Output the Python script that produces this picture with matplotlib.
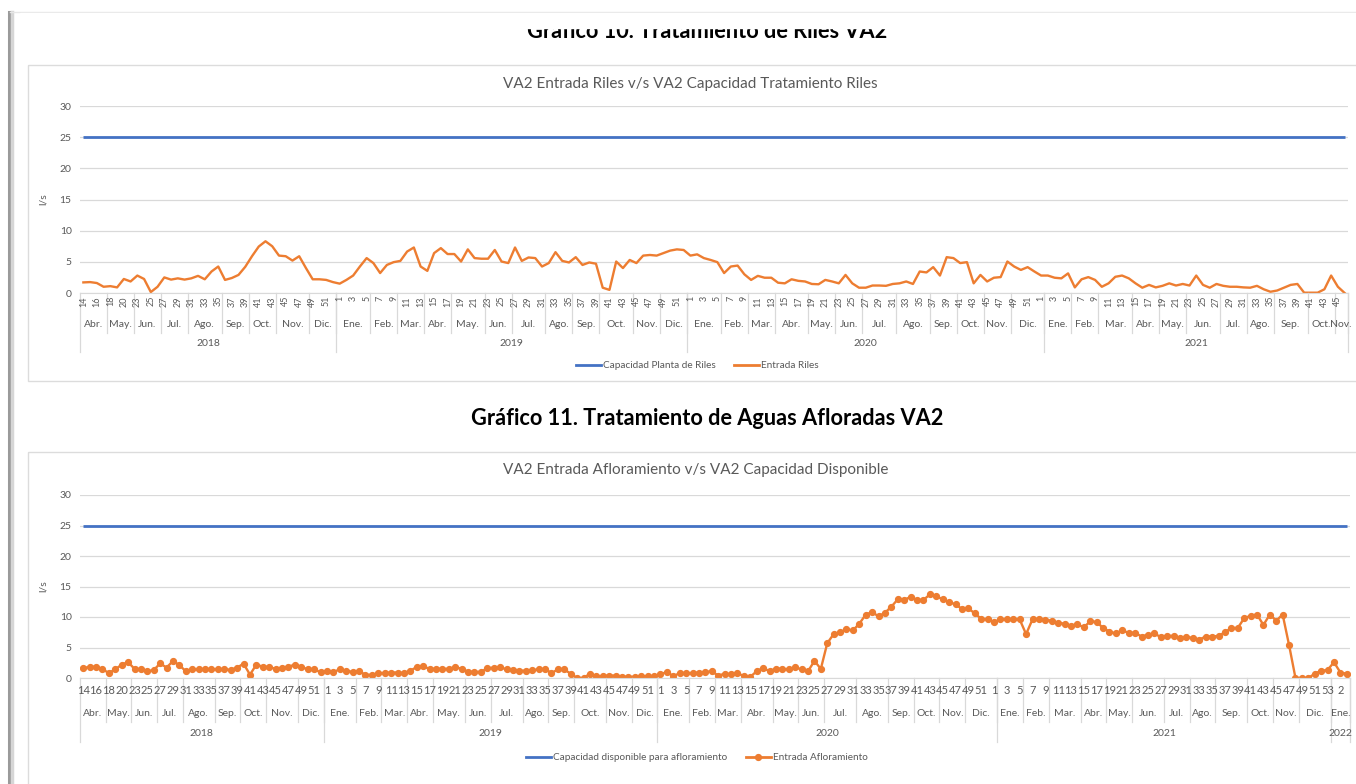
import matplotlib.pyplot as plt
import matplotlib.transforms as mtransforms
from matplotlib.lines import Line2D
from matplotlib.patches import Rectangle

plt.rcParams['font.family'] = ['Lato', 'DejaVu Sans']

W, H = 1356, 784

# --- categorias (semana / mes / año) ---
MESES = ['Ene.', 'Feb.', 'Mar.', 'Abr.', 'May.', 'Jun.', 'Jul.', 'Ago.', 'Sep.', 'Oct.', 'Nov.', 'Dic.']
ANIOS = ['2018', '2019', '2020', '2021', '2022']
SEMANAS_2018 = [[], [], [], [14, 15, 16, 17], [18, 19, 20, 21], [23, 24, 25, 26], [27, 28, 29, 30],
                [31, 32, 33, 34, 35], [36, 37, 38, 39], [40, 41, 42, 43], [44, 45, 46, 47, 48], [49, 50, 51, 52]]
SEMANAS_2019 = [[1, 2, 3, 4, 5], [6, 7, 8, 9], [10, 11, 12, 13], [14, 15, 16, 17], [18, 19, 20, 21, 22],
                [23, 24, 25, 26], [27, 28, 29, 30, 31], [32, 33, 34, 35], [36, 37, 38, 39],
                [40, 41, 42, 43, 44], [45, 46, 47, 48], [49, 50, 51, 52]]
SEMANAS_2020 = [[1, 2, 3, 4, 5], [6, 7, 8, 9], [10, 11, 12, 13], [14, 15, 16, 17, 18], [19, 20, 21, 22],
                [23, 24, 25, 26], [27, 28, 29, 30, 31], [32, 33, 34, 35, 36], [37, 38, 39, 40],
                [41, 42, 43, 44], [45, 46, 47, 48], [49, 50, 51, 52, 1]]
SEMANAS_2021 = [[2, 3, 4, 5], [6, 7, 8, 9], [10, 11, 12, 13, 14], [15, 16, 17, 18], [19, 20, 21, 22],
                [23, 24, 25, 26, 27], [28, 29, 30, 31], [32, 33, 34, 35], [36, 37, 38, 39, 40],
                [41, 42, 43, 44], [45, 46, 47, 48], [49, 50, 51, 52, 53]]
SEMANAS_2022 = [[1, 2, 3]]

# --- datos (l/s) ---
CAPACIDAD_RILES = 25
CAPACIDAD_AFLORAMIENTO = 25

RILES_2018 = [1.7, 1.75, 1.6, 1.0, 1.1, 0.9, 2.25, 1.85, 2.8, 2.25, 0.15, 1.0, 2.5, 2.15, 2.35, 2.15,
              2.35, 2.75, 2.2, 3.45, 4.25, 2.1, 2.4, 2.9, 4.2, 5.9, 7.45, 8.3, 7.5, 6.0, 5.9, 5.2, 5.9,
              4.0, 2.2, 2.2, 2.1, 1.75]
RILES_2019 = [1.5, 2.1, 2.8, 4.25, 5.6, 4.8, 3.2, 4.5, 4.95, 5.15, 6.65, 7.3, 4.25, 3.55, 6.4, 7.2,
              6.25, 6.25, 5.05, 7.0, 5.6, 5.5, 5.5, 6.9, 5.05, 4.8, 7.3, 5.15, 5.7, 5.6, 4.25, 4.8,
              6.55, 5.15, 4.9, 5.75, 4.5, 4.9, 4.7, 0.85, 0.5, 5.05, 4.0, 5.3, 4.8, 6.0, 6.1, 6.0,
              6.4, 6.8, 7.0, 6.9]
RILES_2020 = [6.0, 6.2, 5.6, 5.3, 4.95, 3.2, 4.25, 4.4, 3.0, 2.1, 2.75, 2.45, 2.45, 1.65, 1.55, 2.2,
              1.95, 1.85, 1.45, 1.4, 2.1, 1.85, 1.55, 2.9, 1.55, 0.85, 0.85, 1.2, 1.2, 1.15, 1.45,
              1.55, 1.85, 1.45, 3.45, 3.3, 4.15, 2.8, 5.75, 5.6, 4.8, 4.95, 1.55, 2.9, 1.85, 2.45,
              2.55, 5.05, 4.25, 3.7, 4.15, 3.45, 2.8]
RILES_2021 = [2.8, 2.45, 2.35, 3.15, 0.9, 2.2, 2.55, 2.1, 1.0, 1.55, 2.6, 2.8, 2.35, 1.55, 0.85,
              1.3, 0.9, 1.15, 1.55, 1.2, 1.45, 1.2, 2.8, 1.3, 0.85, 1.45, 1.15, 1.0, 1.0, 0.9, 0.85,
              1.15, 0.6, 0.2, 0.4, 0.85, 1.3, 1.45, 0.05, 0.05, 0.05, 0.6, 2.8, 1.0, 0.0]

AFLORA_2018 = [1.65, 1.8, 1.85, 1.4, 0.85, 1.4, 2.2, 2.6, 1.5, 1.4, 1.1, 1.3, 2.4, 1.7, 2.8, 2.1,
               1.1, 1.4, 1.4, 1.4, 1.45, 1.4, 1.4, 1.35, 1.7, 2.35, 0.55, 2.2, 1.85, 1.8, 1.5, 1.7,
               1.85, 2.2, 1.85, 1.4, 1.4, 0.95]
AFLORA_2019 = [1.1, 1.0, 1.4, 1.2, 1.0, 1.1, 0.55, 0.5, 0.8, 0.8, 0.9, 0.9, 0.8, 1.2, 1.8, 1.9,
               1.5, 1.5, 1.5, 1.5, 1.8, 1.5, 1.05, 1.0, 1.0, 1.6, 1.7, 1.8, 1.4, 1.3, 1.2, 1.2, 1.3,
               1.4, 1.5, 0.8, 1.4, 1.4, 0.7, 0.0, 0.0, 0.7, 0.3, 0.3, 0.4, 0.4, 0.2, 0.2, 0.2, 0.3,
               0.3, 0.3]
AFLORA_2020 = [0.6, 1.0, 0.3, 0.8, 0.8, 0.8, 0.9, 1.0, 1.1, 0.4, 0.7, 0.6, 0.8, 0.3, 0.2, 1.1,
               1.65, 1.1, 1.55, 1.5, 1.4, 1.75, 1.4, 1.1, 2.8, 1.5, 5.7, 7.2, 7.5, 8.0, 7.8, 8.9,
               10.4, 10.8, 10.1, 10.7, 11.7, 12.9, 12.8, 13.3, 12.8, 12.8, 13.7, 13.4, 12.9, 12.4,
               12.1, 11.3, 11.4, 10.6, 9.7, 9.6, 9.2]
AFLORA_2021 = [9.6, 9.6, 9.6, 9.6, 7.2, 9.6, 9.6, 9.55, 9.4, 9.05, 8.9, 8.6, 8.8, 8.3, 9.3, 9.2,
               8.2, 7.6, 7.3, 7.8, 7.4, 7.4, 6.8, 7.1, 7.3, 6.7, 6.9, 6.9, 6.5, 6.7, 6.6, 6.3, 6.8,
               6.8, 6.9, 7.5, 8.2, 8.2, 9.8, 10.2, 10.4, 8.7, 10.4, 9.4, 10.4, 5.4, 0.0, 0.0, 0.0,
               0.7, 1.2, 1.3]
AFLORA_2022 = [2.6, 0.9, 0.7]

ENTRADA_RILES = RILES_2018 + RILES_2019 + RILES_2020 + RILES_2021
ENTRADA_AFLORAMIENTO = AFLORA_2018 + AFLORA_2019 + AFLORA_2020 + AFLORA_2021 + AFLORA_2022

AZUL = '#4472C4'
NARANJA = '#ED7D31'
GRIS = '#595959'
GRILLA = '#D9D9D9'

semanas, meses, anios = [], [], []
for anio, sem_anio in zip(ANIOS, [SEMANAS_2018, SEMANAS_2019, SEMANAS_2020, SEMANAS_2021, SEMANAS_2022]):
    for mes, lista in zip(MESES, sem_anio):
        for s in lista:
            semanas.append(s)
            meses.append((anio, mes))
            anios.append(anio)


def tramos(claves, n):
    # grupos consecutivos (inicio, fin, clave)
    res = []
    ini = 0
    for i in range(1, n + 1):
        if i == n or claves[i] != claves[ini]:
            res.append((ini, i - 1, claves[ini]))
            ini = i
    return res


fig = plt.figure(figsize=(W / 100, H / 100), dpi=100)
fondo = fig.add_axes([0, 0, 1, 1], zorder=0)
fondo.set_xlim(0, W)
fondo.set_ylim(H, 0)
fondo.axis('off')

# marco de la pagina y de los graficos
fondo.plot([9, 9], [12, H], color='#9a9a9a', lw=2.2)
fondo.plot([12, 12], [12, H], color='#d6d6d6', lw=2.5)
fondo.plot([10, W], [12, 12], color='#e6e6e6', lw=1)
fondo.add_patch(Rectangle((28, 65), W, 316, fill=False, ec='#dcdcdc', lw=1))
fondo.add_patch(Rectangle((28, 452), W, 400, fill=False, ec='#dcdcdc', lw=1))

fondo.text(707, 38, 'Gráfico 10. Tratamiento de Riles VA2', ha='center', va='baseline',
           fontsize=15.7, fontweight='bold', color='black')
fondo.add_patch(Rectangle((20, 13), W, 15, color='white', zorder=5))
fondo.text(707, 425, 'Gráfico 11. Tratamiento de Aguas Afloradas VA2', ha='center', va='baseline',
           fontsize=15.7, fontweight='bold', color='black')

fondo.text(690, 84, 'VA2 Entrada Riles v/s VA2 Capacidad Tratamiento Riles', ha='center',
           va='center', fontsize=11, color=GRIS)
fondo.text(696, 470, 'VA2 Entrada Afloramiento v/s VA2 Capacidad Disponible', ha='center',
           va='center', fontsize=11, color=GRIS)


def grafico(caja, valores, capacidad, nombre_cap, nombre_ent, marcador, filas, leyenda):
    x0, y0, x1, y1 = caja
    ax = fig.add_axes([x0 / W, 1 - y1 / H, (x1 - x0) / W, (y1 - y0) / H], zorder=2)
    ax.patch.set_alpha(0)
    n = len(valores)
    x = list(range(n))
    ax.plot(x, [capacidad] * n, color=AZUL, lw=2, solid_capstyle='butt')
    ax.plot(x, valores, color=NARANJA, lw=1.7, marker=marcador, ms=4.2, solid_joinstyle='round')
    ax.set_xlim(-0.5, n - 0.5)
    ax.set_ylim(0, 30)
    ax.set_yticks(range(0, 31, 5))
    ax.set_xticks([])
    ax.grid(axis='y', color=GRILLA, lw=0.9)
    ax.set_axisbelow(True)
    for lado in ['top', 'right', 'left']:
        ax.spines[lado].set_visible(False)
    ax.spines['bottom'].set_color(GRILLA)
    ax.tick_params(axis='y', length=0, labelsize=7.5, labelcolor=GRIS, pad=6)
    ax.set_ylabel('l/s', fontsize=7.5, color=GRIS)
    ax.yaxis.set_label_coords(-(x0 - 48) / (x1 - x0), 0.5)

    y_sem, rot, fs_sem, y_mes, y_anio, fin_mes, fin_anio = filas
    tr = mtransforms.blended_transform_factory(ax.transData, fondo.transData)
    for i in range(0, n, 2):
        if rot:
            ax.text(i, y_sem, str(semanas[i]), rotation=90, ha='center', va='top',
                    fontsize=fs_sem, color=GRIS, transform=tr)
        else:
            ax.text(i, y_sem, str(semanas[i]), ha='center', va='center',
                    fontsize=fs_sem, color=GRIS, transform=tr)
    for a, b, (anio, mes) in tramos(meses, n):
        ax.text((a + b) / 2, y_mes, mes, ha='center', va='center', fontsize=7.5,
                color=GRIS, transform=tr)
        ax.plot([b + 0.5, b + 0.5], [y1, fin_mes], color=GRILLA, lw=0.9, transform=tr, clip_on=False)
    for a, b, anio in tramos(anios, n):
        ax.text((a + b) / 2, y_anio, anio, ha='center', va='center', fontsize=7.5,
                color=GRIS, transform=tr)
        ax.plot([b + 0.5, b + 0.5], [y1, fin_anio], color=GRILLA, lw=0.9, transform=tr, clip_on=False)
    ax.plot([-0.5, -0.5], [y1, fin_anio], color=GRILLA, lw=0.9, transform=tr, clip_on=False)

    manijas = [Line2D([], [], color=AZUL, lw=2),
               Line2D([], [], color=NARANJA, lw=2, marker=marcador, ms=4.2)]
    lx, ly = leyenda
    fig.legend(manijas, [nombre_cap, nombre_ent], loc='center', ncol=2, frameon=False,
               bbox_to_anchor=(lx / W, 1 - ly / H), fontsize=7.2, handlelength=2.5,
               handletextpad=0.2, columnspacing=1.8, labelcolor=GRIS)
    return ax


grafico((80, 106, 1348, 293), ENTRADA_RILES, CAPACIDAD_RILES, 'Capacidad Planta de Riles',
        'Entrada Riles', None, (296, True, 6.5, 324, 343, 333, 352), (697, 366))
grafico((80, 495, 1350, 678), ENTRADA_AFLORAMIENTO, CAPACIDAD_AFLORAMIENTO,
        'Capacidad disponible para afloramiento', 'Entrada Afloramiento', 'o',
        (690, False, 8, 713, 733, 722, 742), (697, 758))

fig.savefig('out.png', dpi=100)
